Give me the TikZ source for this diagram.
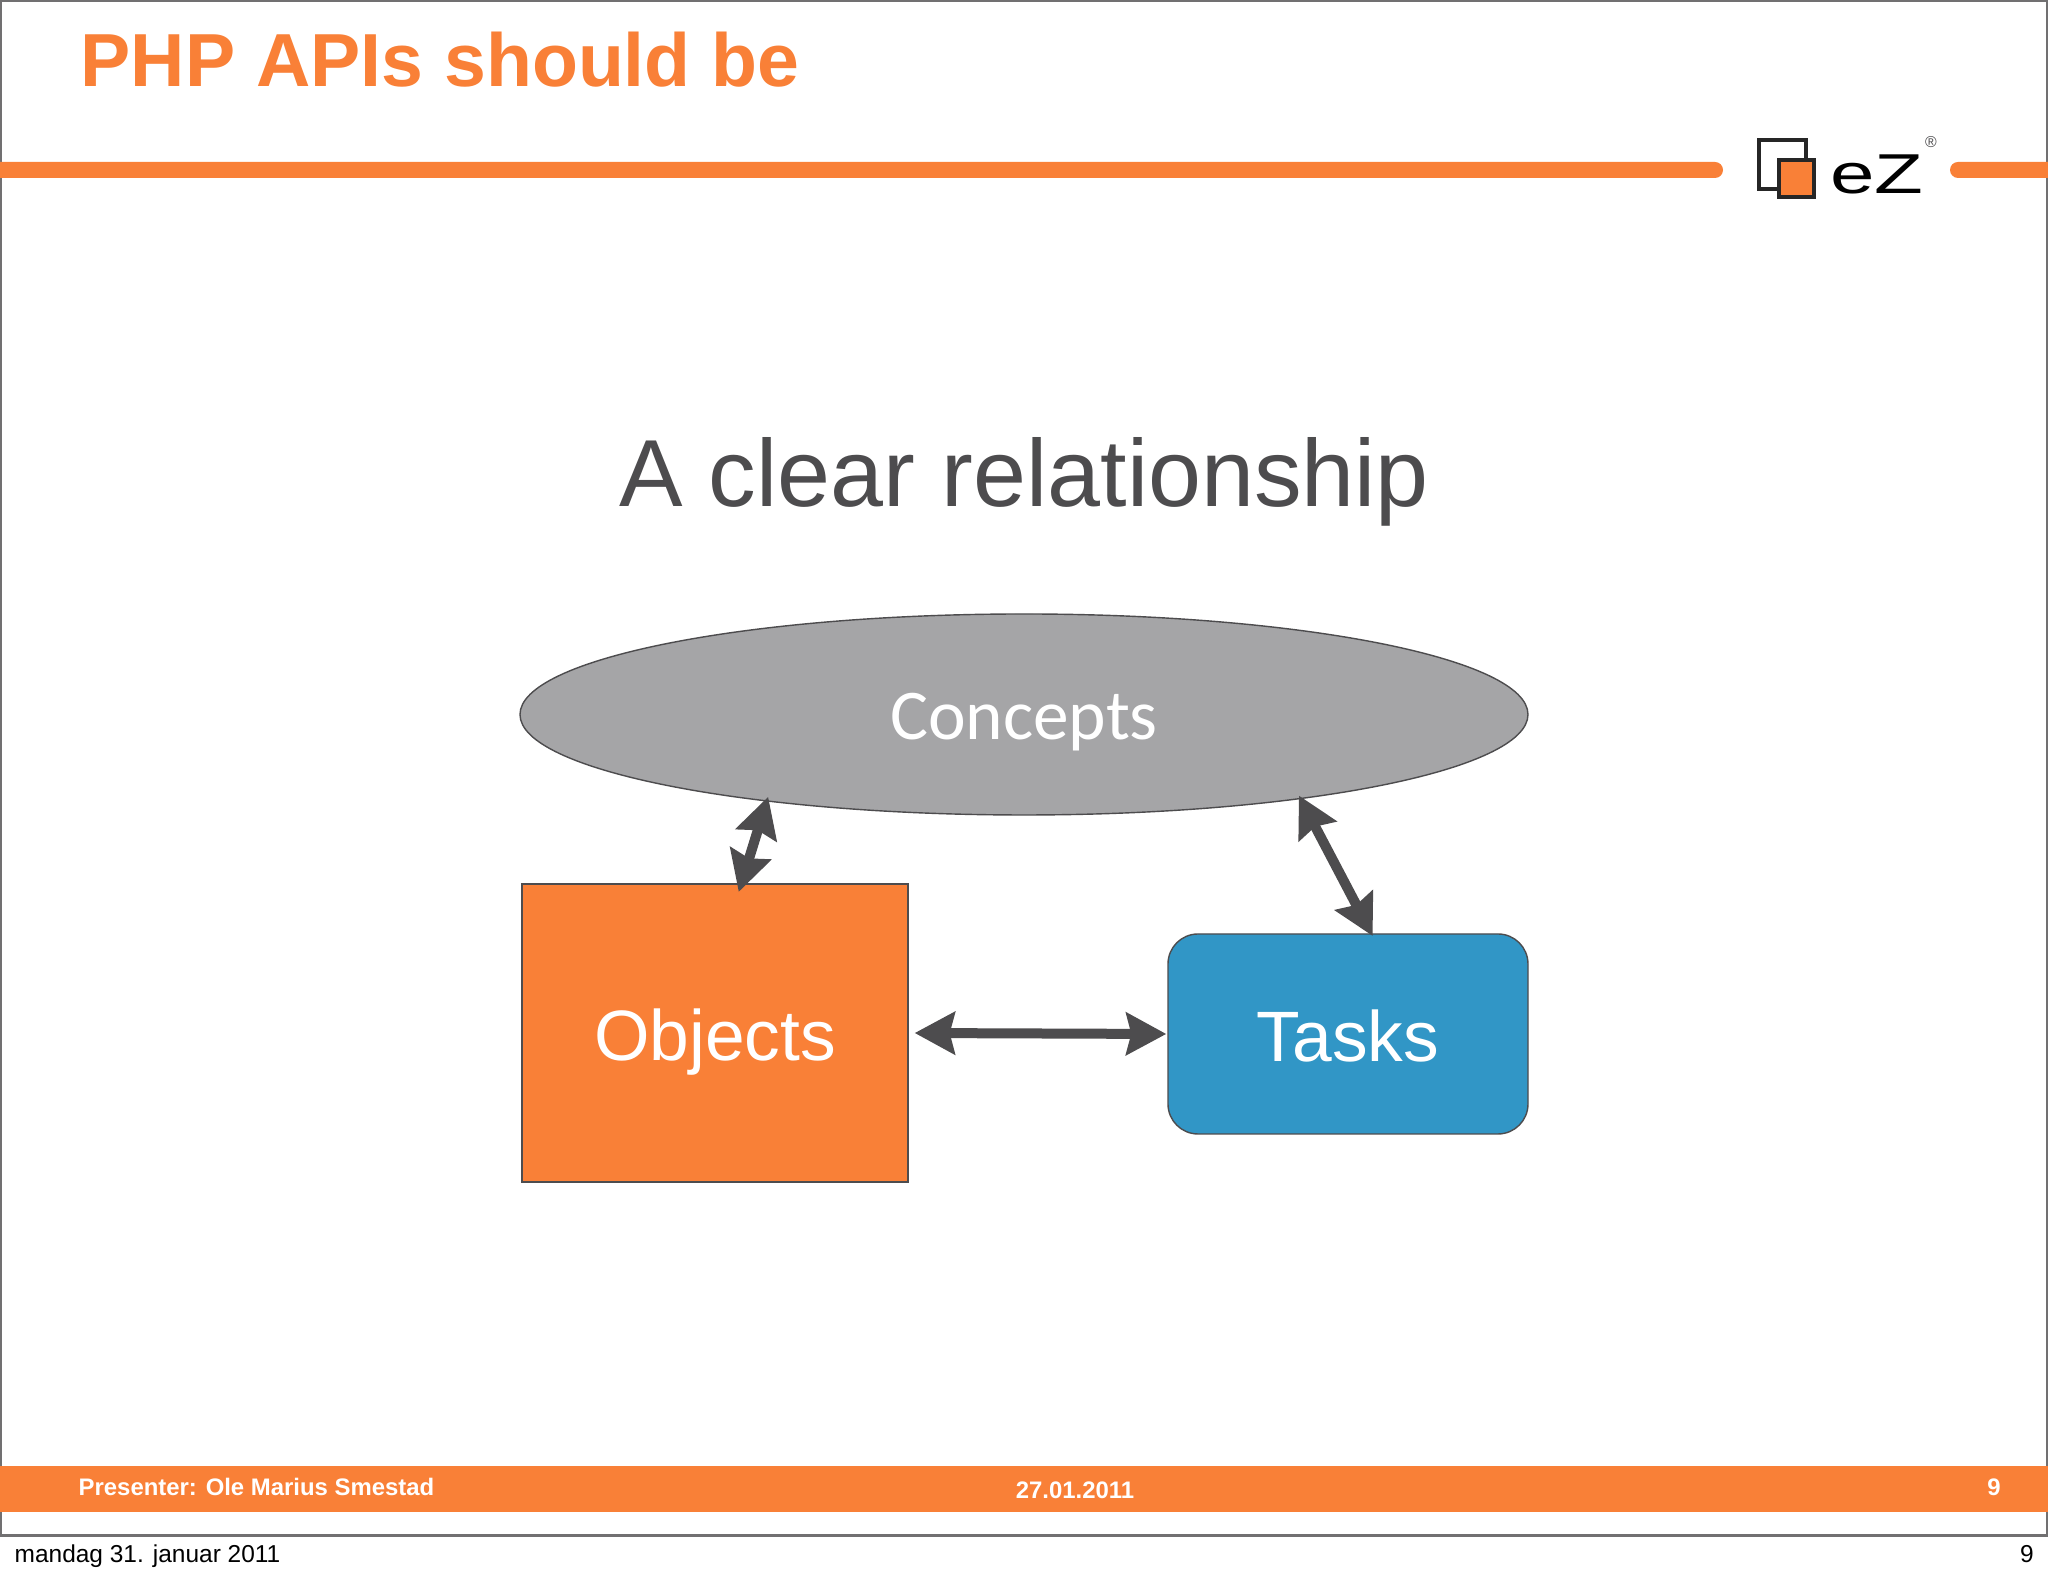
\documentclass[tikz,border=0pt]{standalone}
\usepackage{fontspec}
\usepackage{tikz}
\usetikzlibrary{arrows.meta,shapes.geometric}
\setmainfont{Liberation Sans}
\newfontfamily\conceptfont{Carlito}
\definecolor{ezorange}{HTML}{F98037}
\definecolor{ezdark}{HTML}{4D4C4E}
\definecolor{ezgrey}{HTML}{A5A5A7}
\definecolor{ezblue}{HTML}{3196C6}
\tikzset{
  footertext/.style={text=white,font=\fontsize{6.8}{8}\selectfont\bfseries,inner sep=0pt,anchor=base},
  pagetext/.style={text=black,font=\fontsize{6.96}{8}\selectfont,inner sep=0pt,anchor=base},
  shapetext/.style={draw=ezdark,line width=0.4pt,text=white,font=\fontsize{20.3}{24}\selectfont,inner sep=0pt,text height=0.56cm,text depth=0pt},
  twoway/.style={draw=ezdark,line width=0.1cm,{Stealth[length=0.4cm,width=0.42cm,inset=0.05cm]}-{Stealth[length=0.4cm,width=0.42cm,inset=0.05cm]}}
}

\begin{document}
\begin{tikzpicture}
\useasboundingbox (0,0) rectangle (20.48,15.76);
\fill [white] (0,0) rectangle (20.48,15.76);

\draw [ezdark!80,line width=0.02cm] (0.01,0.4) -- (0.01,15.75) -- (20.47,15.75) -- (20.47,0.4);
\draw [ezdark!80,line width=0.03cm] (0,0.4) -- (20.48,0.4);

\node [anchor=base west,inner sep=0pt,text=ezorange,font=\fontsize{21.4}{26}\selectfont\bfseries] (title) at (0.8,14.89) {PHP APIs should be};

\fill [ezorange] (0,13.98) -- (17.15,13.98) arc (-90:90:0.08) -- (0,14.14) -- cycle;
\fill [ezorange] (20.48,13.98) -- (19.58,13.98) arc (270:90:0.08) -- (20.48,14.14) -- cycle;

\draw [black!85,line width=0.04cm] (17.59,13.87) rectangle (18.06,14.36);
\draw [black!85,fill=ezorange,line width=0.04cm] (17.79,13.79) rectangle (18.14,14.16);
\node [inner sep=0pt,xscale=1.42,font=\fontsize{16}{19}\selectfont] (logo) at (18.77,14.02) {eZ};
\node [inner sep=0pt,text=ezdark,font=\fontsize{4.5}{5}\selectfont] (mark) at (19.31,14.34) {®};

\node [anchor=base,inner sep=0pt,text=ezdark,font=\fontsize{27.1}{32}\selectfont] (heading) at (10.24,10.69) {A clear relationship};

\node [ellipse,draw=ezdark,line width=0.4pt,fill=ezgrey,text=white,inner sep=0pt,text height=0.51cm,text depth=0pt,minimum width=10.08cm,minimum height=2.01cm,font=\conceptfont\fontsize{20.3}{24}\selectfont] (concepts) at (10.24,8.615) {Concepts};
\node [shapetext,rectangle,fill=ezorange,minimum width=3.86cm,minimum height=2.98cm] (objects) at (7.15,5.43) {Objects};
\node [shapetext,rectangle,rounded corners=0.3cm,fill=ezblue,minimum width=3.6cm,minimum height=2cm] (tasks) at (13.48,5.42) {Tasks};

\draw [twoway,shorten <=-0.04cm,shorten >=-0.09cm] ([xshift=0.08cm]concepts.198.95) -- (objects.80.3);
\draw [twoway,shorten <=-0.04cm,shorten >=-0.03cm] (concepts.-17.5) -- (tasks.77);
\draw [twoway,shorten <=0.06cm,shorten >=0.01cm] (objects.east) -- (tasks.west);

\fill [ezorange] (0,0.64) rectangle (20.48,1.1);
\node [footertext,anchor=base west] (presenter) at (0.78,0.8) {Presenter: Ole Marius Smestad};
\node [footertext] (date) at (10.75,0.775) {27.01.2011};
\node [footertext] (slide) at (19.94,0.8) {9};

\node [pagetext,anchor=base west] (day) at (0.14,0.13) {mandag 31. januar 2011};
\node [pagetext] (page) at (20.27,0.13) {9};

\end{tikzpicture}
\end{document}
